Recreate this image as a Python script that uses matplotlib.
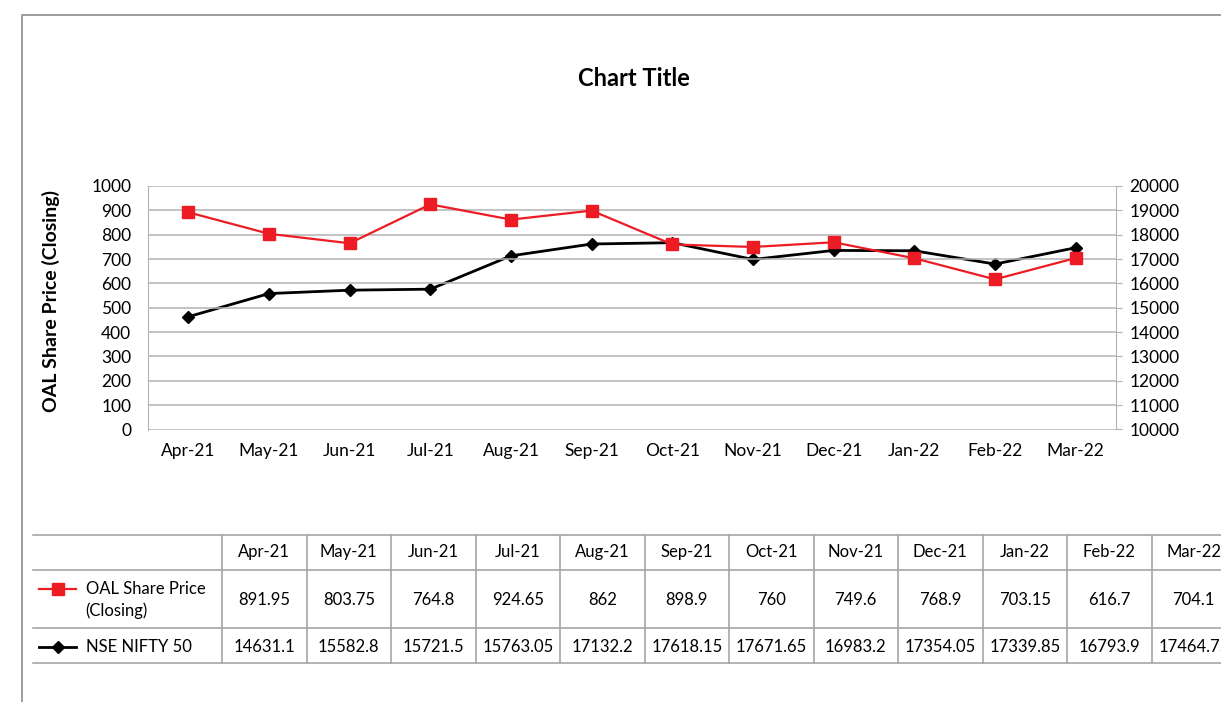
import matplotlib
matplotlib.use("Agg")
import matplotlib.pyplot as plt
from matplotlib.lines import Line2D

plt.rcParams['font.family'] = ['Lato', 'DejaVu Sans']

# Data
months = ['Apr-21', 'May-21', 'Jun-21', 'Jul-21', 'Aug-21', 'Sep-21',
          'Oct-21', 'Nov-21', 'Dec-21', 'Jan-22', 'Feb-22', 'Mar-22']
oal_price = [891.95, 803.75, 764.8, 924.65, 862, 898.9,
             760, 749.6, 768.9, 703.15, 616.7, 704.1]
nifty = [14631.1, 15582.8, 15721.5, 15763.05, 17132.2, 17618.15,
         17671.65, 16983.2, 17354.05, 17339.85, 16793.9, 17464.75]
oal_labels = ['891.95', '803.75', '764.8', '924.65', '862', '898.9',
              '760', '749.6', '768.9', '703.15', '616.7', '704.1']
nifty_labels = ['14631.1', '15582.8', '15721.5', '15763.05', '17132.2', '17618.15',
                '17671.65', '16983.2', '17354.05', '17339.85', '16793.9', '17464.75']

W, H = 1221, 702
RED = '#ed1c24'
GRID = '#b3b3b3'

fig = plt.figure(figsize=(W / 100, H / 100), dpi=100)

# outer chart border (cut at right/bottom)
bg = fig.add_axes([0, 0, 1, 1])
bg.set_xlim(0, W)
bg.set_ylim(H, 0)
bg.axis('off')
bg.plot([22, 22, W + 5], [H + 5, 15, 15], color='#8c8c8c', lw=1.2)

# main chart
top, bottom = 186, 429.5
ax1 = fig.add_axes([148 / W, 1 - bottom / H, (1116 - 148) / W, (bottom - top) / H])
ax2 = ax1.twinx()
x = list(range(len(months)))

ax1.set_ylim(0, 1000)
ax1.set_yticks(range(0, 1001, 100))
ax2.set_ylim(10000, 20000)
ax2.set_yticks(range(10000, 20001, 1000))
ax1.set_xlim(-0.5, len(months) - 0.5)
ax1.set_xticks(x)
ax1.set_xticklabels(months)

ax1.grid(axis='y', color=GRID, lw=1.1)
ax1.set_axisbelow(True)
for a in (ax1, ax2):
    for s in a.spines.values():
        s.set_visible(False)
ax1.spines['left'].set_visible(True)
ax1.spines['left'].set_color(GRID)
ax2.spines['right'].set_visible(True)
ax2.spines['right'].set_color(GRID)
ax1.tick_params(axis='x', length=0, pad=10, labelsize=12.5)
ax1.tick_params(axis='y', length=0, pad=12, labelsize=12.5)
ax2.tick_params(axis='y', length=4.5, color=GRID, pad=5, labelsize=12.5)

ax2.plot(x, nifty, color='black', lw=2, marker='D', ms=6.5, zorder=3)
ax1.plot(x, oal_price, color=RED, lw=1.6, marker='s', ms=8.5, zorder=4)
ax1.set_zorder(ax2.get_zorder() + 1)
ax1.patch.set_visible(False)

bg.text(51, 301, 'OAL Share Price (Closing)', ha='center', va='center',
        rotation=90, fontsize=14, fontweight='bold')
bg.text(634, 79, 'Chart Title', ha='center', va='center',
        fontsize=17, fontweight='bold')

# data table
TL = '#a6a6a6'
left0, c0 = 32.7, 222
cw = 84.5
rows_y = [535, 570, 628, 663]
for yy in rows_y:
    bg.plot([left0, W + 5], [yy, yy], color=TL, lw=1.2)
for i in range(len(months) + 1):
    xx = c0 + i * cw
    bg.plot([xx, xx], [rows_y[0], rows_y[-1]], color=TL, lw=1.2)

for i, m in enumerate(months):
    cx = c0 + (i + 0.5) * cw
    bg.text(cx, 552, m, ha='center', va='center', fontsize=12)
    bg.text(cx, 600, oal_labels[i], ha='center', va='center', fontsize=12)
    bg.text(cx, 647, nifty_labels[i], ha='center', va='center', fontsize=12)

bg.add_line(Line2D([39, 76], [589, 589], color=RED, lw=1.6))
bg.add_line(Line2D([57.5], [589], color=RED, marker='s', ms=8.5))
bg.text(85.5, 589, 'OAL Share Price', ha='left', va='center', fontsize=12)
bg.text(85.5, 611, '(Closing)', ha='left', va='center', fontsize=12)
bg.add_line(Line2D([39, 76], [647, 647], color='black', lw=2))
bg.add_line(Line2D([57.5], [647], color='black', marker='D', ms=6.5))
bg.text(85.5, 647, 'NSE NIFTY 50', ha='left', va='center', fontsize=12)

fig.savefig('out.png', dpi=100)
